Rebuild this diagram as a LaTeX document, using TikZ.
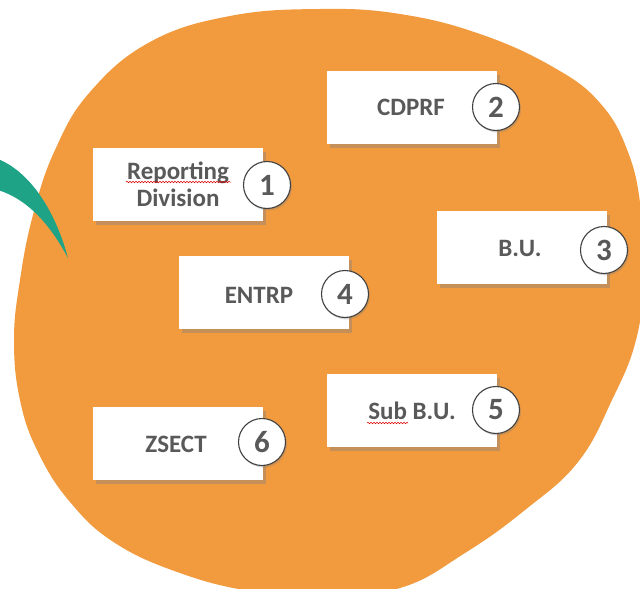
\documentclass[tikz,border=0pt]{standalone}
\usepackage{fontspec}
\setmainfont{Carlito}
\usetikzlibrary{shadows,decorations.pathmorphing}
\definecolor{blobfill}{HTML}{F29A3E}
\definecolor{leafteal}{HTML}{1FA386}
\definecolor{txtgray}{HTML}{595959}
\definecolor{ringgray}{HTML}{404040}
\begin{document}
\begin{tikzpicture}[x=1pt,y=-1pt,
  card/.style={fill=white, minimum width=170pt, minimum height=73pt, inner sep=0pt, anchor=north west,
    drop shadow={shadow xshift=2.5pt,shadow yshift=-3.5pt,opacity=0.4}},
  cardtext/.style={text=txtgray, font=\fontsize{25}{27}\selectfont\bfseries, align=center, inner sep=0pt},
  numring/.style={circle, fill=white, draw=ringgray, line width=1.1pt, minimum size=47pt, inner sep=0pt,
    text=txtgray, font=\fontsize{31}{31}\selectfont\bfseries,
    drop shadow={shadow xshift=1.5pt,shadow yshift=-2pt,opacity=0.3}},
  spell/.style={red!85!black, line width=0.5pt, decorate, decoration={snake, amplitude=0.8pt, segment length=3pt}}
]
\useasboundingbox (0,0) rectangle (640,589);
\fill[white] (0,0) rectangle (640,589);
% orange blob
\fill[blobfill] plot[smooth cycle, tension=0.7] coordinates {
  (230,16) (320,9) (400,14) (480,34) (553,67) (600,103) (628,152) (641,210) (644,275)
  (636,340) (612,400) (578,462) (525,510) (465,553) (400,588) (320,596) (250,591)
  (180,573) (115,543) (70,502) (38,452) (20,400) (14,340) (20,280) (33,215) (55,150)
  (90,92) (150,42)};
% teal crescent
\fill[leafteal] (-2,159) .. controls (30,172) and (55,210) .. (68,258)
   .. controls (52,228) and (30,200) .. (-2,190) -- cycle;
% cards
\node[card] (b1) at (93,148) {};
\node[card] (b2) at (327,71) {};
\node[card] (b3) at (437,211) {};
\node[card] (b4) at (179,256) {};
\node[card] (b5) at (327,374) {};
\node[card] (b6) at (93,407) {};
% texts
\node[cardtext] (t1) at (178,184) {Reporting\\Division};
\node[cardtext] (t2) at (411,107) {CDPRF};
\node[cardtext] (t3) at (520,248) {B.U.};
\node[cardtext] (t4) at (259,295) {ENTRP};
\node[cardtext] (t5) at (412,411) {Sub B.U.};
\node[cardtext] (t6) at (176,444) {ZSECT};
% number rings
\node[numring] (n1) at (267,185) {1};
\node[numring] (n2) at (496,107) {2};
\node[numring] (n3) at (604,250) {3};
\node[numring] (n4) at (345,294) {4};
\node[numring] (n5) at (496,410) {5};
\node[numring] (n6) at (262,442) {6};
% spell-check squiggles
\draw[spell] (126,182) -- (231,182);
\draw[spell] (367,423) -- (408,423);
\end{tikzpicture}
\end{document}
